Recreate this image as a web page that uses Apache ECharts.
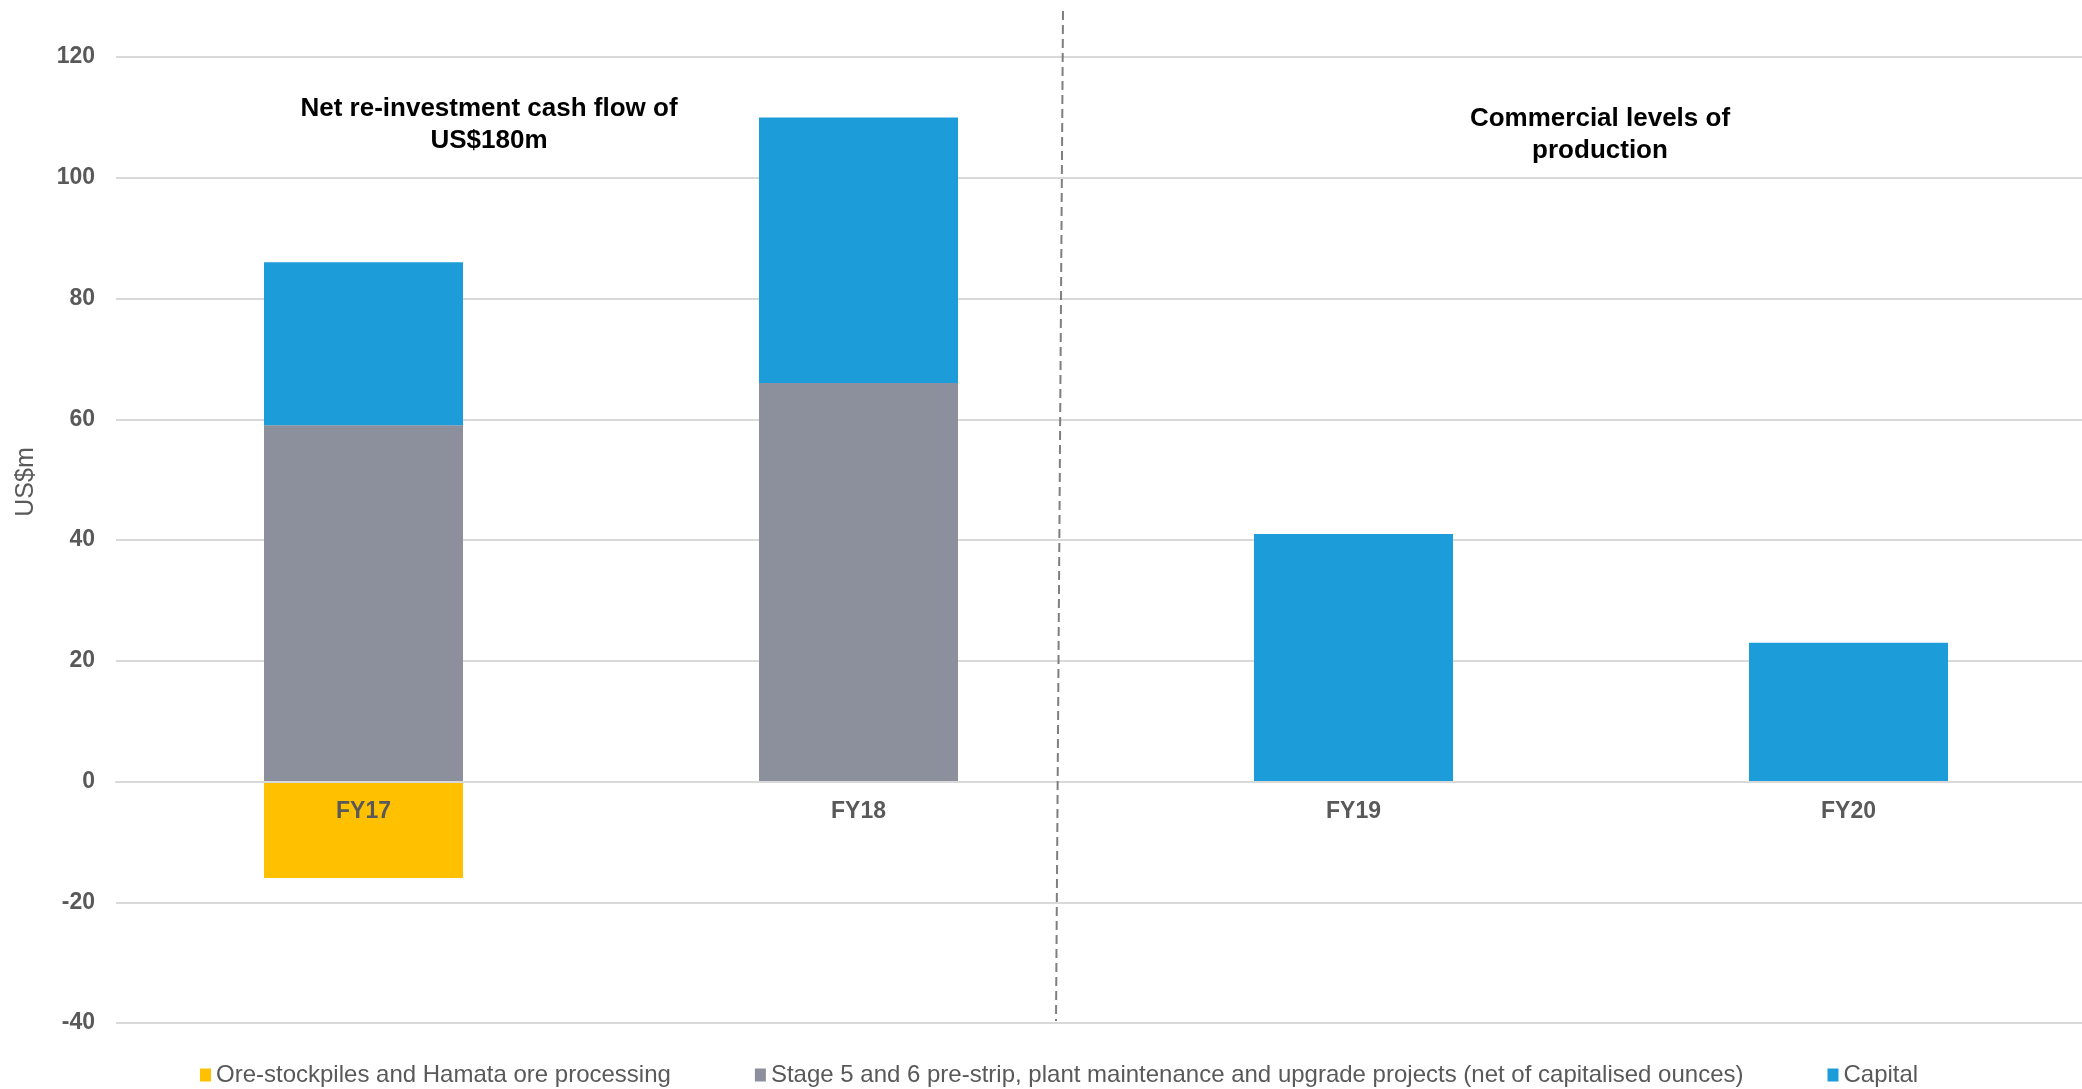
<!DOCTYPE html>
<html>
<head>
<meta charset="utf-8">
<script src="https://cdn.jsdelivr.net/npm/echarts@6/dist/echarts.min.js"></script>
<style>
  html, body { margin: 0; padding: 0; background: #fff; }
  #chart { width: 2082px; height: 1089px; }
</style>
</head>
<body>
<div id="chart"></div>
<script>
const categories = ['FY17', 'FY18', 'FY19', 'FY20']
const oreStockpiles = [-16, null, null, null]
const stagePreStrip = [59, 66, null, null]
const capital = [27, 44, 41, 23]

const yTicks = { min: -40, max: 120, interval: 20 }

const seriesNames = [
  'Ore-stockpiles and Hamata ore processing',
  'Stage 5 and 6 pre-strip, plant maintenance and upgrade projects (net of capitalised ounces)',
  'Capital'
]
const colors = ['#FFC000', '#8C8F9C', '#1C9DD9']

const font = '"Liberation Sans", Arial, sans-serif'
const grey = '#595959'

const chart = echarts.init(document.getElementById('chart'))

chart.setOption({
  animation: false,
  color: colors,
  textStyle: { fontFamily: font },
  grid: { left: 116, right: -14, top: 57, bottom: 66, outerBoundsMode: 'none' },
  legend: {
    left: 195,
    bottom: -3,
    icon: 'rect',
    itemWidth: 11,
    itemHeight: 13,
    itemGap: 84,
    textStyle: { fontSize: 24, color: grey, fontFamily: font },
    data: seriesNames
  },
  xAxis: {
    type: 'category',
    data: categories,
    z: 10,
    axisLine: { onZero: true, lineStyle: { color: '#D9D9D9', width: 2 } },
    axisTick: { show: false },
    // labels sit just under the zero line, over the negative bar
    axisLabel: { fontSize: 23, fontWeight: 'bold', color: grey, margin: -223 }
  },
  yAxis: {
    type: 'value',
    min: yTicks.min,
    max: yTicks.max,
    interval: yTicks.interval,
    axisLine: { show: false },
    axisTick: { show: false },
    axisLabel: { fontSize: 23, fontWeight: 'bold', color: grey, margin: 21 },
    splitLine: { lineStyle: { color: '#D9D9D9', width: 2 } }
  },
  series: [
    { name: seriesNames[0], type: 'bar', stack: 'total', barWidth: 199, data: oreStockpiles },
    { name: seriesNames[1], type: 'bar', stack: 'total', barWidth: 199, data: stagePreStrip },
    { name: seriesNames[2], type: 'bar', stack: 'total', barWidth: 199, data: capital }
  ],
  graphic: [
    {
      type: 'text',
      x: 26,
      y: 482,
      rotation: Math.PI / 2,
      style: {
        text: 'US$m',
        fontSize: 25,
        fill: grey,
        fontFamily: font,
        align: 'center',
        verticalAlign: 'middle'
      }
    },
    {
      type: 'line',
      shape: { x1: 1063, y1: 11, x2: 1056, y2: 1021 },
      style: { stroke: '#7F7F7F', lineWidth: 2, lineDash: [9, 5] },
      z: 20
    },
    {
      type: 'text',
      x: 489,
      y: 125,
      style: {
        text: 'Net re-investment cash flow of\nUS$180m',
        fontSize: 26,
        fontWeight: 'bold',
        lineHeight: 32,
        fill: '#000',
        fontFamily: font,
        align: 'center',
        verticalAlign: 'middle'
      }
    },
    {
      type: 'text',
      x: 1600,
      y: 135,
      style: {
        text: 'Commercial levels of\nproduction',
        fontSize: 26,
        fontWeight: 'bold',
        lineHeight: 32,
        fill: '#000',
        fontFamily: font,
        align: 'center',
        verticalAlign: 'middle'
      }
    }
  ]
})
</script>
</body>
</html>
